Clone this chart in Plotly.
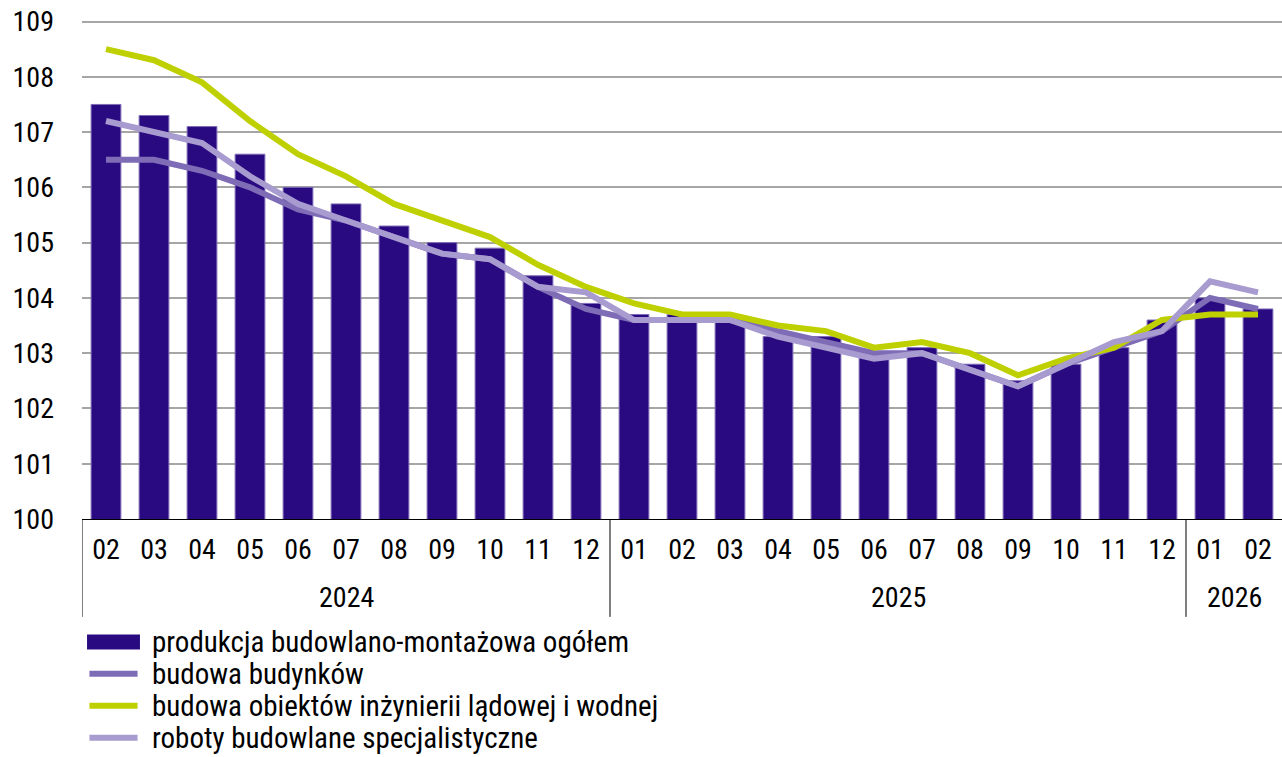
import plotly.graph_objects as go

years = ["2024", "2025", "2026"]
year_counts = [11, 12, 2]
months = ["02", "03", "04", "05", "06", "07", "08", "09", "10", "11", "12",
          "01", "02", "03", "04", "05", "06", "07", "08", "09", "10", "11", "12",
          "01", "02"]

ogolem = [107.5, 107.3, 107.1, 106.6, 106.0, 105.7, 105.3, 105.0, 104.9, 104.4, 103.9,
          103.7, 103.7, 103.6, 103.3, 103.3, 103.0, 103.1, 102.8, 102.5, 102.8, 103.1, 103.6,
          104.0, 103.8]
budynki = [106.5, 106.5, 106.3, 106.0, 105.6, 105.4, 105.1, 104.8, 104.7, 104.2, 103.8,
           103.6, 103.6, 103.6, 103.4, 103.2, 103.0, 103.0, 102.7, 102.4, 102.8, 103.1, 103.4,
           104.0, 103.8]
inzynieria = [108.5, 108.3, 107.9, 107.2, 106.6, 106.2, 105.7, 105.4, 105.1, 104.6, 104.2,
              103.9, 103.7, 103.7, 103.5, 103.4, 103.1, 103.2, 103.0, 102.6, 102.9, 103.1, 103.6,
              103.7, 103.7]
roboty = [107.2, 107.0, 106.8, 106.2, 105.7, 105.4, 105.1, 104.8, 104.7, 104.2, 104.1,
          103.6, 103.6, 103.6, 103.3, 103.1, 102.9, 103.0, 102.7, 102.4, 102.8, 103.2, 103.4,
          104.3, 104.1]

y_ticks = [100, 101, 102, 103, 104, 105, 106, 107, 108, 109]

names = ["produkcja budowlano-montażowa ogółem", "budowa budynków",
         "budowa obiektów inżynierii lądowej i wodnej", "roboty budowlane specjalistyczne"]
colors = ["#2A0A80", "#7E6CB6", "#BFD000", "#A89BD0"]

FONT = "Roboto Condensed, DejaVu Sans Condensed, sans-serif"
x = list(range(len(months)))

fig = go.Figure()
fig.add_trace(go.Bar(x=x, y=ogolem, name=names[0], marker_color=colors[0],
                     marker_line=dict(color="#7F6DB7", width=1)))
fig.add_trace(go.Scatter(x=x, y=budynki, name=names[1], mode="lines",
                         line=dict(color=colors[1], width=6)))
fig.add_trace(go.Scatter(x=x, y=inzynieria, name=names[2], mode="lines",
                         line=dict(color=colors[2], width=6)))
fig.add_trace(go.Scatter(x=x, y=roboty, name=names[3], mode="lines",
                         line=dict(color=colors[3], width=6)))

# year group labels and dividers
DIV_BOTTOM = -0.1946
start = 0
bounds = [-0.5]
for yr, n in zip(years, year_counts):
    center = start + (n - 1) / 2
    fig.add_annotation(x=center, y=-0.1569, xref="x", yref="paper", text=yr,
                       showarrow=False, yanchor="middle",
                       font=dict(family=FONT, size=28, color="black"))
    start += n
    bounds.append(start - 0.5)
for b in bounds[:-1]:
    fig.add_shape(type="line", xref="x", yref="paper", x0=b, x1=b, y0=0, y1=DIV_BOTTOM,
                  line=dict(color="black", width=1))

# legend (below the chart)
leg_y = [-0.2443, -0.3078, -0.3714, -0.4350]
sx0, sx1, tx = 0.0042, 0.0483, 0.0567
for i, (nm, col) in enumerate(zip(names, colors)):
    if i == 0:
        fig.add_shape(type="rect", xref="paper", yref="paper", x0=sx0, x1=sx1,
                      y0=leg_y[i] - 0.0149, y1=leg_y[i] + 0.0149,
                      fillcolor=col, line=dict(width=0))
    else:
        fig.add_shape(type="line", xref="paper", yref="paper", x0=sx0 + 0.002, x1=sx1 - 0.002,
                      y0=leg_y[i], y1=leg_y[i], line=dict(color=col, width=6))
    fig.add_annotation(x=tx, y=leg_y[i], xref="paper", yref="paper", text=nm,
                       showarrow=False, xanchor="left", yanchor="middle",
                       font=dict(family=FONT, size=29, color="black"))

fig.update_layout(
    width=1282, height=757,
    margin=dict(l=82, r=0, t=15.5, b=238),
    paper_bgcolor="white", plot_bgcolor="white",
    font=dict(family=FONT, size=28, color="black"),
    bargap=0.38,
    showlegend=False,
    xaxis=dict(range=[-0.5, len(months) - 0.5], tickmode="array", tickvals=x, ticktext=months,
               showline=True, linecolor="black", linewidth=1, showgrid=False, zeroline=False,
               ticks="", ticklabelstandoff=5, automargin=False,
               tickfont=dict(family=FONT, size=28)),
    yaxis=dict(range=[100, 109.1], tickmode="array", tickvals=y_ticks,
               ticktext=[str(v) for v in y_ticks],
               showgrid=True, gridcolor="#A6A6A6", gridwidth=1.5,
               zeroline=False, showline=False, ticks="", ticklabelstandoff=27, automargin=False,
               ticklabeloverflow="allow",
               tickfont=dict(family=FONT, size=28)),
)

fig.write_html("out.html", config={"displayModeBar": False},
               post_script="document.body.style.margin = '0';")
